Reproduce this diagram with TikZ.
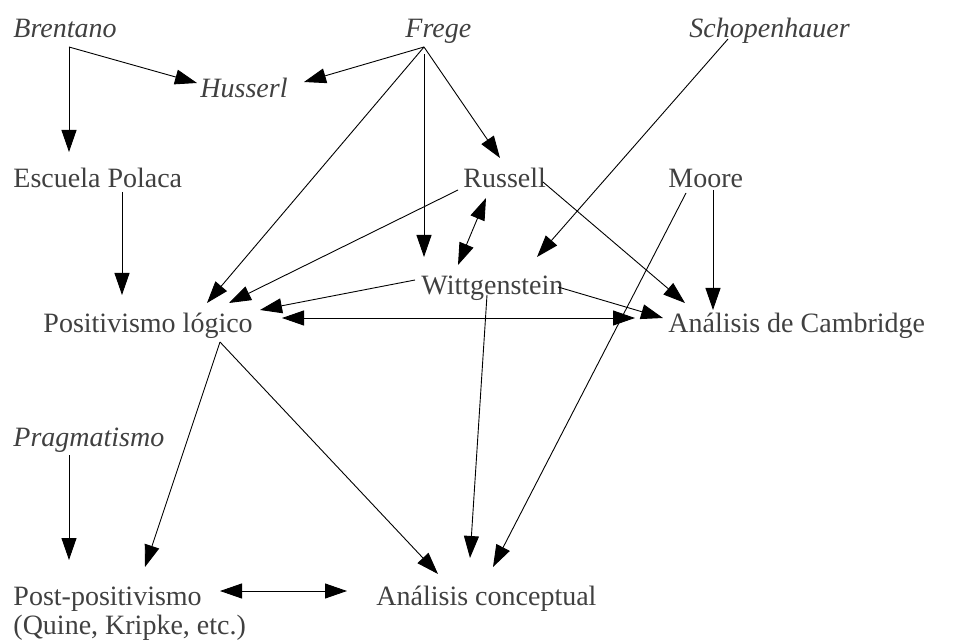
\documentclass[tikz,border=0pt]{standalone}
\usepackage{fontspec}
\setmainfont{Liberation Serif}
\usetikzlibrary{arrows.meta, calc}

\begin{document}
\begin{tikzpicture}[x=1pt, y=-1pt, line width=0.9pt,
    >={Triangle[length=22pt, width=15pt]},
    school/.style={anchor=base west, inner sep=0pt, text=black!75,
        font=\fontsize{28}{29}\selectfont},
    thinker/.style={school, font=\fontsize{28}{29}\selectfont\itshape}]
    \useasboundingbox (0,0) rectangle (956,644);

    % Precursors
    \node[thinker] (brentano) at (13,38) {Brentano};
    \node[thinker] (frege) at (405,38) {Frege};
    \node[thinker] (schop) at (689,38) {Schopenhauer};
    \node[thinker] (husserl) at (200,98) {Husserl};
    \node[thinker] (prag) at (13,446) {Pragmatismo};

    % Schools and authors
    \node[school] (escuela) at (13,188) {Escuela Polaca};
    \node[school] (russell) at (463,188) {Russell};
    \node[school] (moore) at (668,188) {Moore};
    \node[school] (witt) at (421,295) {Wittgenstein};
    \node[school] (posit) at (43,333) {Positivismo lógico};
    \node[school] (cambr) at (668,333) {Análisis de Cambridge};
    % base of a two-line node is its last line
    \node[school, align=left] (post) at (13,634) {Post-positivismo\\(Quine, Kripke, etc.)};
    \node[school] (concept) at (376,605) {Análisis conceptual};

    % Brentano
    \draw[->] ($(brentano.base west)+(56,9)$) -- ($(husserl.base west)+(-3,-15)$);
    \draw[->] ($(brentano.base west)+(56,9)$) -- ($(escuela.base west)+(56,-36)$);

    % Frege
    \draw[->] ($(frege.base west)+(19,9)$) -- ($(husserl.base west)+(104,-16)$);
    \draw[->] ($(frege.base west)+(19,9)$) -- ($(posit.base west)+(164,-30)$);
    \draw[->] ($(frege.base west)+(19,16)$) -- ($(witt.base west)+(3,-38)$);
    \draw[->] ($(frege.base west)+(19,9)$) -- ($(russell.base west)+(37,-30)$);

    % Schopenhauer
    \draw[->] ($(schop.base west)+(39,1)$) -- ($(witt.base west)+(116,-38)$);

    % Russell
    \draw[->] ($(russell.base west)+(-5,2)$) -- ($(posit.base west)+(186,-30)$);
    \draw[<->] ($(russell.base west)+(23,10)$) -- ($(witt.base west)+(37,-30)$);
    \draw[->] ($(russell.base west)+(80,-6)$) -- ($(cambr.base west)+(17,-30)$);

    % Moore
    \draw[->] ($(moore.base west)+(45,2)$) -- ($(cambr.base west)+(45,-23)$);
    \draw[->] ($(moore.base west)+(18,5)$) -- ($(concept.base west)+(117,-38)$);

    % Wittgenstein
    \draw[->] ($(witt.base west)+(-6,-15)$) -- ($(posit.base west)+(217,-23)$);
    \draw[->] ($(witt.base west)+(137,-8)$) -- ($(cambr.base west)+(-5,-15)$);
    \draw[->] ($(witt.base west)+(66,0)$) -- ($(concept.base west)+(94,-47)$);

    % Positivismo
    \draw[->] ($(escuela.base west)+(109,4)$) -- ($(posit.base west)+(79,-38)$);
    \draw[<->] ($(posit.base west)+(239,-15)$) -- ($(cambr.base west)+(-33,-15)$);
    \draw[->] ($(posit.base west)+(177,9)$) -- ($(post.base west)+(132,-67)$);
    \draw[->] ($(posit.base west)+(177,9)$) -- ($(concept.base west)+(62,-31)$);

    % Post-positivismo
    \draw[->] ($(prag.base west)+(56,9)$) -- ($(post.base west)+(56,-74)$);
    \draw[<->] ($(post.base west)+(207,-43)$) -- ($(concept.base west)+(-29,-14)$);
\end{tikzpicture}
\end{document}
